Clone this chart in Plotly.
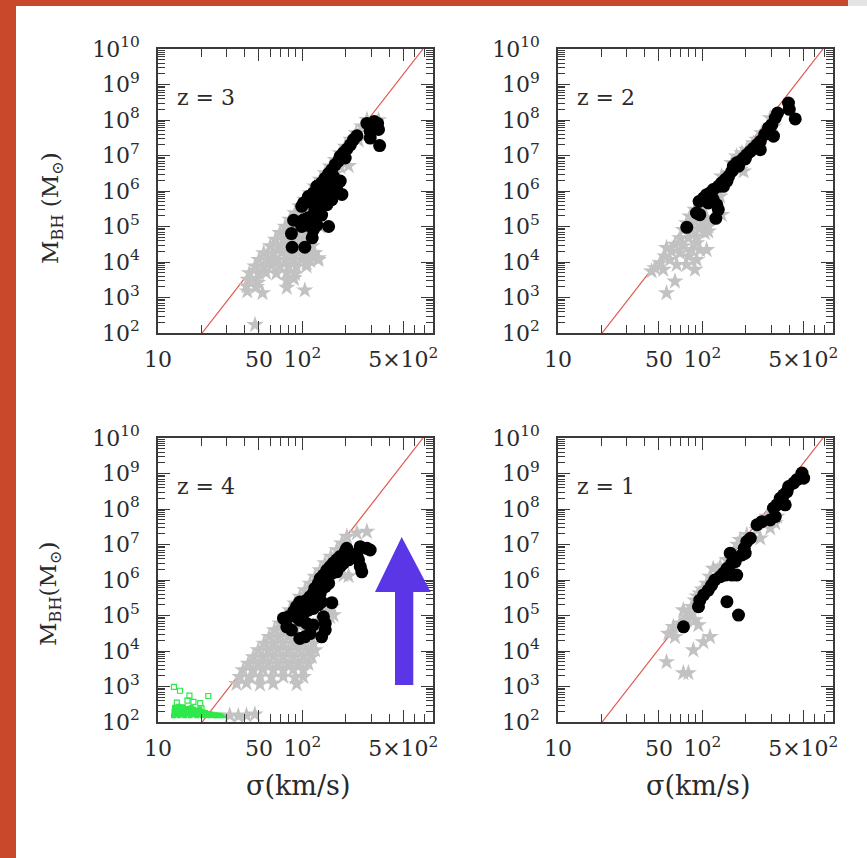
import plotly.graph_objects as go

# ---------------- data (sigma in km/s, M_BH in solar masses) ----------------
RED_SIGMA = [20.2, 685.0]
RED_MBH = [1e2, 1e10]

X_TICKVALS = [10, 50, 100, 500]
X_TICKTEXT = ["10", "50", "10<sup>2</sup>", "5×10<sup>2</sup>"]
Y_TICKVALS = [1e2, 1e3, 1e4, 1e5, 1e6, 1e7, 1e8, 1e9, 1e10]
Y_TICKTEXT = ["10<sup>%d</sup>" % k for k in range(2, 11)]

PANEL_LABELS = ["z = 3", "z = 2", "z = 4", "z = 1"]

Z3_GRAY = [(41, 2.1e3), (48, 2.0e3), (42, 3.2e3), (48, 3.3e3), (78, 3.1e3), (87, 3.4e3),
           (43, 4.9e3), (50, 4.7e3), (56, 5.0e3), (66, 4.8e3), (78, 5.1e3), (89, 4.6e3),
           (47, 7.6e3), (54, 7.4e3), (61, 7.9e3), (70, 7.5e3), (80, 7.8e3), (91, 7.3e3), (107, 7.7e3),
           (50, 1.16e4), (58, 1.2e4), (66, 1.1e4), (76, 1.18e4), (87, 1.13e4), (99, 1.2e4), (113, 1.1e4), (129, 1.15e4),
           (54, 1.8e4), (63, 1.75e4), (72, 1.85e4), (82, 1.78e4), (94, 1.82e4), (107, 1.76e4), (122, 1.8e4),
           (60, 2.8e4), (68, 2.7e4), (78, 2.9e4), (89, 2.75e4), (102, 2.85e4), (116, 2.8e4),
           (65, 4.3e4), (74, 4.2e4), (84, 4.4e4), (96, 4.25e4), (110, 4.3e4),
           (70, 6.6e4), (80, 6.4e4), (91, 6.8e4), (104, 6.5e4), (119, 6.6e4),
           (76, 1.0e5), (87, 9.8e4), (99, 1.03e5), (113, 9.9e4), (133, 1.0e5),
           (82, 1.56e5), (94, 1.5e5), (107, 1.6e5),
           (89, 2.4e5), (102, 2.3e5), (116, 2.45e5),
           (96, 3.7e5), (110, 3.6e5), (104, 5.7e5), (119, 5.6e5),
           (113, 8.8e5), (129, 8.6e5), (122, 1.35e6), (140, 1.3e6), (133, 2.1e6),
           (144, 3.2e6), (169, 3.1e6), (156, 5.0e6), (183, 4.8e6), (209, 5.1e6),
           (169, 7.6e6), (193, 7.4e6), (183, 1.17e7), (198, 1.8e7), (217, 2.8e7), (245, 2.7e7),
           (236, 4.3e7), (258, 6.6e7), (280, 1.02e8), (337, 1.0e8),
           (47, 1.7e2), (53, 1.34e3), (41.5, 1.5e3), (49, 2.6e3), (78, 1.9e3), (104, 1.6e3),
           (87, 3.6e3), (129, 1.3e4), (107, 9.4e3), (119, 1.8e4)]

Z3_BLACK = [(280, 8e7), (315, 9e7), (332, 8e7), (295, 4.8e7), (337, 5.4e7), (295, 3.1e7), (343, 1.9e7),
            (239, 3.6e7), (226, 2.8e7), (215, 2e7), (203, 1.5e7), (193, 1.2e7), (183, 9.5e6), (178, 7e6),
            (198, 8.5e6), (169, 5.5e6), (160, 4e6), (152, 3.1e6), (144, 2.3e6), (136, 1.7e6), (126, 1.35e6),
            (164, 2.6e6), (156, 2.1e6), (183, 1.9e6), (188, 8e5), (173, 1.35e6), (160, 1.1e6), (148, 1.35e6),
            (140, 8.7e5), (133, 7e5), (119, 8.7e5), (110, 7e5), (102, 4.6e5), (116, 4.6e5), (126, 5.1e5),
            (136, 6.3e5), (148, 7e5), (160, 5.7e5), (148, 4.1e5), (133, 3.3e5), (122, 2.7e5), (119, 1.95e5),
            (110, 1.75e5), (102, 1.55e5), (87, 1.5e5), (99, 1e5), (107, 1.1e5), (126, 1.1e5), (152, 1e5),
            (136, 2.1e5), (119, 8e4), (117, 4.8e4), (84, 6.3e4), (85, 2.6e4), (104, 2.6e4), (99, 3.7e5)]

Z2_GRAY = [(44.5, 5.5e3), (46.9, 6.8e3), (53.6, 6.1e3), (64.6, 2.85e3), (56.5, 1.34e3), (50.9, 9.4e3),
           (55.1, 1.45e4), (59.6, 1.16e4), (66.4, 8.4e3), (77.8, 8.4e3), (88.9, 6.1e3), (61.2, 2e4),
           (70, 1.8e4), (80, 1.45e4), (91.3, 1.16e4), (56.5, 2.5e4), (64.6, 3.1e4), (73.8, 2.8e4),
           (84.3, 2.2e4), (96.3, 2.2e4), (107, 2.2e4), (91.3, 3.4e4), (70, 4.7e4), (80, 4.7e4),
           (91.3, 5.3e4), (104, 6.6e4), (110, 7.3e4), (73.8, 8.1e4), (84.3, 8.1e4), (96.3, 9.1e4),
           (110, 1e5), (77.8, 1.26e5), (88.9, 1.4e5), (101.6, 1.4e5), (82, 1.93e5), (93.8, 1.93e5),
           (107, 1.73e5), (136, 2.15e5), (88.9, 3e5), (101.6, 3.3e5), (96.3, 4.6e5), (107, 5.7e5),
           (119, 7.1e5), (132.7, 7.1e5), (125.8, 1.09e6), (136, 2.6e6), (152, 3.2e6), (183, 4e6),
           (193, 3.6e6), (160, 6.2e6), (173, 9.5e6), (188, 1.17e7), (203, 1.46e7), (226, 2.25e7),
           (239, 2.8e7), (258, 4.3e7), (295, 1.14e8), (311, 6.6e7)]

Z2_BLACK = [(395, 3.0e8), (400, 2.0e8), (440, 1.07e8), (332, 1.57e8), (320, 1.14e8), (303, 7.4e7),
            (287, 6e7), (311, 3.5e7), (270, 3.9e7), (252, 2.5e7), (239, 2e7), (226, 1.6e7), (215, 1.3e7),
            (203, 1.05e7), (193, 8.5e6), (183, 6.9e6), (173, 6.2e6), (164, 5e6), (160, 3.6e6), (152, 2.6e6),
            (144, 2.1e6), (136, 1.7e6), (129, 1.35e6), (119, 1.1e6), (113, 8.8e5), (107, 7.9e5), (102, 6.4e5),
            (95, 5.1e5), (91, 2.4e5), (96, 2.15e5), (126, 4.1e5), (129, 3e5), (124, 1.7e5), (78, 9.5e4),
            (110, 4.6e5), (119, 5.7e5), (140, 1.35e6), (148, 1.9e6), (178, 5e6), (252, 1.46e7), (198, 8e6),
            (280, 4.3e7)]

Z4_GRAY = [(35.0, 1.2e3), (41.0, 1.25e3), (50.9, 1.15e3), (62.9, 1.22e3), (91.3, 1.18e3),
           (36.9, 1.87e3), (43.3, 1.8e3), (50.9, 1.9e3), (61.2, 1.85e3), (73.8, 1.9e3), (88.9, 1.8e3), (101.6, 1.87e3),
           (38.9, 2.9e3), (45.7, 2.8e3), (53.6, 3.0e3), (62.9, 2.9e3), (73.8, 2.85e3), (86.6, 3.0e3), (101.6, 2.9e3),
           (42.2, 4.4e3), (49.5, 4.3e3), (58.1, 4.5e3), (68.1, 4.4e3), (80, 4.3e3), (93.8, 4.5e3), (110.1, 4.4e3),
           (45.7, 6.8e3), (53.6, 6.6e3), (62.9, 7.0e3), (73.8, 6.8e3), (86.6, 6.7e3), (101.6, 6.9e3), (116.1, 6.8e3),
           (49.5, 1.06e4), (58.1, 1.03e4), (68.1, 1.08e4), (80, 1.05e4), (93.8, 1.07e4), (110.1, 1.04e4), (122.5, 1.06e4),
           (54.2, 1.63e4), (62.9, 1.6e4), (73.8, 1.66e4), (86.6, 1.62e4), (101.6, 1.65e4), (119.3, 1.6e4),
           (58.9, 2.5e4), (68.1, 2.45e4), (80, 2.55e4), (93.8, 2.5e4), (113.1, 2.45e4),
           (64, 3.9e4), (73.8, 3.8e4), (86.6, 4.0e4), (104.4, 3.9e4), (122.5, 3.85e4),
           (70, 6e4), (80, 5.9e4), (93.8, 6.1e4), (125.8, 6e4),
           (75.8, 9.2e4), (86.6, 9.0e4), (155.7, 9.2e4),
           (82, 1.42e5), (93.8, 1.4e5), (151.6, 1.42e5),
           (88.9, 2.2e5), (101.6, 2.15e5), (96.3, 3.4e5), (107.2, 3.3e5),
           (104.4, 5.2e5), (116.1, 5.1e5), (113.1, 8e5), (122.5, 1.24e6), (132.7, 1.9e6),
           (143.8, 3e6), (157.4, 4.6e6), (182.8, 4.5e6), (173.3, 7e6), (187.7, 1.08e7),
           (203.4, 1.67e7), (238.6, 2.1e7), (279.9, 2.3e7),
           (192.8, 1.38e6), (208.9, 1.3e6), (164.3, 1.03e5), (159.9, 1.77e5),
           (31.4, 154), (36.0, 148), (41.0, 154), (46.9, 164)]

Z4_BLACK = [(280, 7.8e6), (295, 7e6), (252, 8.7e6), (239, 5.7e6), (203, 7.8e6), (198, 6.3e6), (183, 4.6e6),
            (173, 3.7e6), (164, 3e6), (156, 2.4e6), (148, 1.9e6), (140, 1.38e6), (133, 1.11e6), (129, 8e5),
            (122, 5.8e5), (119, 4.2e5), (113, 3.4e5), (107, 2.7e5), (102, 2.2e5), (96, 2.4e5), (91, 1.77e5),
            (87, 1.28e5), (80, 9.2e4), (74, 8.3e4), (78, 4.8e4), (84, 3.9e4), (96, 2.25e4), (104, 2.5e4),
            (113, 3.1e4), (119, 5.4e4), (107, 6e4), (96, 7.4e4), (91, 9.2e4), (102, 1.15e5), (110, 1.42e5),
            (119, 1.58e5), (129, 2e5), (136, 2.4e5), (160, 2.3e5), (140, 9.2e4), (144, 6e4), (144, 3.9e4),
            (136, 2.5e4), (133, 4.2e5), (144, 6.5e5), (152, 8e5), (148, 1.24e6), (160, 1.54e6), (173, 1.7e6),
            (183, 2.4e6), (193, 3e6), (209, 3.7e6), (226, 4.6e6), (252, 2.4e6), (258, 1.7e6), (245, 3.7e6)]

Z4_GREEN = [(12.8, 150), (12.9, 200), (13.1, 175), (13.3, 240), (13.4, 160), (13.6, 210), (13.8, 185),
            (14.0, 150), (14.1, 230), (14.3, 195), (14.5, 165), (14.7, 250), (14.9, 210), (15.1, 180),
            (15.3, 150), (15.5, 225), (15.7, 195), (15.9, 165), (16.1, 240), (16.3, 205), (16.5, 175),
            (16.7, 150), (16.9, 220), (17.2, 190), (17.4, 160), (17.7, 230), (17.9, 200), (18.2, 170),
            (18.5, 150), (18.7, 215), (19.0, 185), (19.3, 160), (19.6, 205), (19.9, 175), (20.2, 150),
            (20.5, 195), (20.9, 165), (21.3, 185), (21.7, 155), (22.1, 175), (22.5, 150), (23.0, 170),
            (23.5, 155), (24.0, 165), (24.5, 150), (25.1, 160), (25.7, 150), (26.3, 158), (27.0, 150),
            (27.8, 155), (28.5, 150), (13.0, 260), (15.0, 270), (17.0, 255), (19.5, 235), (13.9, 280),
            (37.0, 150)]

Z4_GREEN_OPEN = [(12.9, 970), (14.2, 760), (16.5, 550), (16.0, 400), (17.6, 370), (19.6, 340),
                 (22.3, 540), (13.5, 350), (20.0, 245)]

Z1_GRAY = [(56.5, 4.9e3), (73.8, 2.4e3), (80, 2.4e3), (86.6, 1.06e4), (101.6, 1.8e4), (113, 2.5e4),
           (64.6, 2.5e4), (58.1, 3.1e4), (62.9, 4.8e4), (70, 6e4), (77.8, 7.4e4), (88.9, 7.4e4),
           (93.8, 5.4e4), (73.8, 1.42e5), (84.3, 1.77e5), (88.9, 2.7e5), (96.3, 4.2e5), (107, 8e5),
           (113, 1.24e6), (119, 2.1e6), (133, 2.4e6), (148, 3.7e6), (164, 5.7e6), (183, 1.35e7),
           (203, 1.87e7), (252, 1.5e7), (295, 2.9e7), (320, 4e7), (280, 6.1e7), (328, 6.1e7),
           (239, 2.6e7), (82, 1.1e5), (78, 9e4), (100, 5.5e5), (92, 3.5e5), (127, 1.8e6), (175, 1e7)]

Z1_BLACK = [(490, 1.03e9), (503, 7.4e8), (452, 6.7e8), (429, 5.4e8), (396, 4.3e8), (386, 3.1e8),
            (366, 2.5e8), (346, 2e8), (355, 1.46e8), (328, 1.31e8), (311, 1.06e8), (375, 1.31e8),
            (320, 6.1e7), (295, 4.9e7), (258, 4.4e7), (239, 3.6e7), (215, 1.5e7), (203, 1.21e7),
            (195, 7.8e6), (198, 5.7e6), (188, 5.1e6), (156, 5.7e6), (169, 3.3e6), (160, 3e6),
            (148, 2.1e6), (140, 1.54e6), (133, 1.24e6), (144, 1.38e6), (160, 1.38e6), (173, 1.38e6),
            (122, 1e6), (116, 7.2e5), (110, 5.2e5), (102, 3.8e5), (96, 2.7e5), (94, 1.77e5),
            (74, 4.8e4), (148, 2.45e5), (178, 1.03e5)]

# ---------------- layout geometry (pixels in a 867x858 page) ----------------
W, H = 867, 858


def fx(x):
    return x / W


def fy(y):
    return 1 - y / H


PANELS = [
    dict(gray=Z3_GRAY, black=Z3_BLACK, xd=(158, 433), yd=(49, 333), lab=(175, 97)),
    dict(gray=Z2_GRAY, black=Z2_BLACK, xd=(558, 833), yd=(49, 333), lab=(575, 97)),
    dict(gray=Z4_GRAY, black=Z4_BLACK, xd=(158, 433), yd=(438, 722), lab=(175, 486)),
    dict(gray=Z1_GRAY, black=Z1_BLACK, xd=(558, 833), yd=(438, 722), lab=(575, 486)),
]

FONT = "DejaVu Serif"
AXC = "#3a3a3a"

fig = go.Figure()
layout_axes = {}
annotations = []

for i, p in enumerate(PANELS):
    s = "" if i == 0 else str(i + 1)
    xa, ya = "x" + s, "y" + s
    fig.add_trace(go.Scatter(x=RED_SIGMA, y=RED_MBH, mode="lines",
                             line=dict(color="#e2554d", width=1.2),
                             xaxis=xa, yaxis=ya, showlegend=False, hoverinfo="skip"))
    if i == 2:
        fig.add_trace(go.Scatter(x=[a for a, b in Z4_GREEN], y=[b for a, b in Z4_GREEN],
                                 mode="markers", xaxis=xa, yaxis=ya, showlegend=False,
                                 marker=dict(symbol="square", size=5, color="#2fe84c",
                                             line=dict(width=0))))
        fig.add_trace(go.Scatter(x=[a for a, b in Z4_GREEN_OPEN], y=[b for a, b in Z4_GREEN_OPEN],
                                 mode="markers", xaxis=xa, yaxis=ya, showlegend=False,
                                 marker=dict(symbol="square-open", size=5, color="#2fe84c",
                                             line=dict(width=1.2, color="#2fe84c"))))
    fig.add_trace(go.Scatter(x=[a for a, b in p["gray"]], y=[b for a, b in p["gray"]],
                             mode="markers", xaxis=xa, yaxis=ya, showlegend=False,
                             marker=dict(symbol="star", size=13, color="#c2c2c2",
                                         line=dict(width=0))))
    fig.add_trace(go.Scatter(x=[a for a, b in p["black"]], y=[b for a, b in p["black"]],
                             mode="markers", xaxis=xa, yaxis=ya, showlegend=False,
                             marker=dict(symbol="circle", size=13, color="#000000",
                                         line=dict(width=0))))

    layout_axes["xaxis" + s] = dict(
        type="log", range=[1, 2.905], domain=[fx(p["xd"][0]), fx(p["xd"][1])],
        anchor=ya, automargin=False, tickmode="array", tickvals=X_TICKVALS, ticktext=X_TICKTEXT,
        ticks="inside", ticklen=12, tickwidth=1, tickcolor=AXC,
        minor=dict(dtick="D1", ticks="inside", ticklen=8, tickwidth=1, tickcolor=AXC, showgrid=False),
        showline=True, linecolor=AXC, linewidth=1.5, mirror="allticks",
        showgrid=False, zeroline=False, ticklabelstandoff=6,
        tickfont=dict(family=FONT, size=22, color="#2a2a2a"))
    layout_axes["yaxis" + s] = dict(
        type="log", range=[2, 10], domain=[fy(p["yd"][1]), fy(p["yd"][0])],
        anchor=xa, automargin=False, tickmode="array", tickvals=Y_TICKVALS, ticktext=Y_TICKTEXT,
        ticks="inside", ticklen=12, tickwidth=1, tickcolor=AXC,
        minor=dict(dtick="D1", ticks="inside", ticklen=7, tickwidth=1, tickcolor=AXC, showgrid=False),
        showline=True, linecolor=AXC, linewidth=1.5, mirror="allticks",
        showgrid=False, zeroline=False, ticklabelstandoff=12,
        tickfont=dict(family=FONT, size=22, color="#2a2a2a"))

    annotations.append(dict(text=PANEL_LABELS[i], x=fx(p["lab"][0]), y=fy(p["lab"][1]),
                            xref="paper", yref="paper", xanchor="left", yanchor="middle",
                            showarrow=False, font=dict(family=FONT, size=22, color="#2a2a2a")))

# axis titles
annotations += [
    dict(text="M<sub>BH</sub> (M<sub>⊙</sub>)", x=fx(52), y=fy(208), textangle=-90, size=23),
    dict(text="M<sub>BH</sub>(M<sub>⊙</sub>)", x=fx(50), y=fy(594), textangle=-90, size=23),
    dict(text="σ(km/s)", x=fx(298), y=fy(785), size=27),
    dict(text="σ(km/s)", x=fx(698), y=fy(785), size=27),
]
for a in annotations[-4:]:
    sz = a.pop("size")
    a.update(xref="paper", yref="paper", xanchor="center", yanchor="middle", showarrow=False,
             font=dict(family=FONT, size=sz, color="#2a2a2a"))

# blue arrow (slide decoration) drawn in page coordinates
arrow_pts = [(401.7, 537), (430.7, 592), (413.3, 592), (413.3, 685), (395, 685), (395, 592), (375, 592)]
arrow_path = "M " + " L ".join("%.5f,%.5f" % (fx(x), fy(y)) for x, y in arrow_pts) + " Z"

shapes = [
    dict(type="rect", xref="paper", yref="paper", x0=fx(16), x1=1, y0=0, y1=fy(6),
         fillcolor="white", line=dict(width=0), layer="below"),
    dict(type="rect", xref="paper", yref="paper", x0=fx(848), x1=1, y0=fy(6), y1=1,
         fillcolor="#e4e4e4", line=dict(width=0), layer="below"),
    dict(type="path", xref="paper", yref="paper", path=arrow_path,
         fillcolor="#5a36e6", line=dict(width=0), layer="above"),
]

fig.update_layout(
    width=W, height=H, margin=dict(l=0, r=0, t=0, b=0, pad=0),
    paper_bgcolor="#c9482b", plot_bgcolor="white",
    showlegend=False, shapes=shapes, annotations=annotations,
    **layout_axes)

fig.write_html("out.html", config={"displayModeBar": False},
               post_script="document.body.style.margin='0';document.body.style.overflow='hidden';")
